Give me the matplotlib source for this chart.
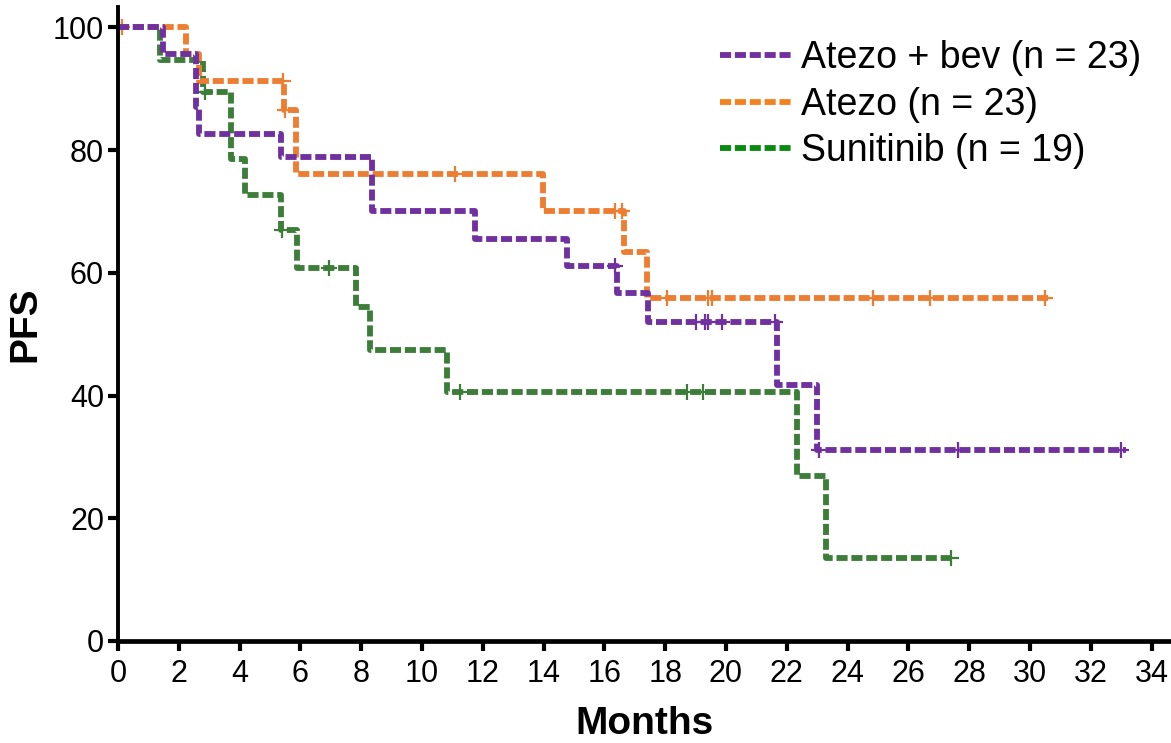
import matplotlib
matplotlib.use("Agg")
import matplotlib.pyplot as plt
from matplotlib.lines import Line2D
import numpy as np

plt.rcParams['font.family'] = ['Liberation Sans', 'DejaVu Sans']

# ---- data ----
labels = ["Atezo + bev (n = 23)", "Atezo (n = 23)", "Sunitinib (n = 19)"]

bev_t = [0, 1.48, 2.58, 2.68, 5.35, 8.36, 11.76, 14.77, 16.43, 17.45, 21.69, 22.98, 33.16]
bev_s = [100, 95.7, 87.0, 82.6, 78.9, 70.1, 65.5, 61.1, 56.7, 52.0, 41.7, 31.1, 31.1]
bev_c = [16.35, 19.03, 19.31, 19.42, 19.86, 21.6, 23.06, 27.64, 33.01]

atz_t = [0, 2.25, 2.65, 5.47, 5.85, 13.97, 16.64, 17.39, 30.65]
atz_s = [100, 95.7, 91.3, 86.5, 76.1, 70.1, 63.4, 55.9, 55.9]
atz_c = [0.12, 5.44, 5.5, 11.08, 16.35, 16.58, 18.05, 19.42, 19.53, 24.84, 26.71, 30.49]

sun_t = [0, 1.37, 2.78, 3.72, 4.19, 5.35, 5.9, 7.83, 8.3, 10.81, 22.35, 23.28, 27.53]
sun_s = [100, 94.7, 89.5, 78.6, 72.6, 67.0, 60.8, 54.4, 47.4, 40.6, 26.9, 13.5, 13.5]
sun_c = [2.85, 5.38, 6.94, 11.26, 18.72, 19.25, 27.4]

x_ticks = list(range(0, 35, 2))
y_ticks = [0, 20, 40, 60, 80, 100]

line_colors = ["#7030A0", "#ED7D31", "#3C7D38"]
legend_colors = ["#7030A0", "#F58220", "#0B8A12"]

# ---- figure ----
fig = plt.figure(figsize=(11.71, 7.43), dpi=100)
ax = fig.add_axes([118/1171, (743-641)/743, 1 - 118/1171, (641-7)/743])

def surv_at(t, times, surv):
    idx = np.searchsorted(times, t, side='right') - 1
    return surv[max(idx, 0)]

series = [(sun_t, sun_s, sun_c, line_colors[2]),
          (atz_t, atz_s, atz_c, line_colors[1]),
          (bev_t, bev_s, bev_c, line_colors[0])]

lw = 4.2
dash = (0, (1.9, 0.65))
for times, surv, cens, col in series:
    ax.step(times, surv, where='post', color=col, lw=lw,
            linestyle=dash, dash_capstyle='butt', solid_capstyle='butt')
    cy = [surv_at(c, times, surv) for c in cens]
    ax.plot(cens, cy, linestyle='none', marker='+', color=col,
            markersize=12, markeredgewidth=1.6)

ax.set_xlim(0, 34.64)
ax.set_ylim(0, 103.3)
ax.set_xticks(x_ticks)
ax.set_yticks(y_ticks)
ax.tick_params(axis='both', labelsize=22, width=3, length=7, color='black')
ax.tick_params(axis='x', pad=6)
ax.tick_params(axis='y', pad=3)

for side in ['top', 'right']:
    ax.spines[side].set_visible(False)
ax.spines['left'].set_linewidth(2.8)
ax.spines['bottom'].set_linewidth(3.4)

ax.set_xlabel("Months", fontsize=28, fontweight='bold', labelpad=12)
ax.set_ylabel("PFS", fontsize=28, fontweight='bold', labelpad=7)

handles = [Line2D([0], [0], color=c, lw=lw, linestyle=dash,
                  dash_capstyle='butt') for c in legend_colors]
leg = ax.legend(handles, labels, loc='upper left',
                bbox_to_anchor=(0.557, 0.971), frameon=False,
                fontsize=27, handlelength=1.95, handletextpad=0.22,
                labelspacing=0.28, borderaxespad=0)

fig.savefig("out.png", dpi=100)
